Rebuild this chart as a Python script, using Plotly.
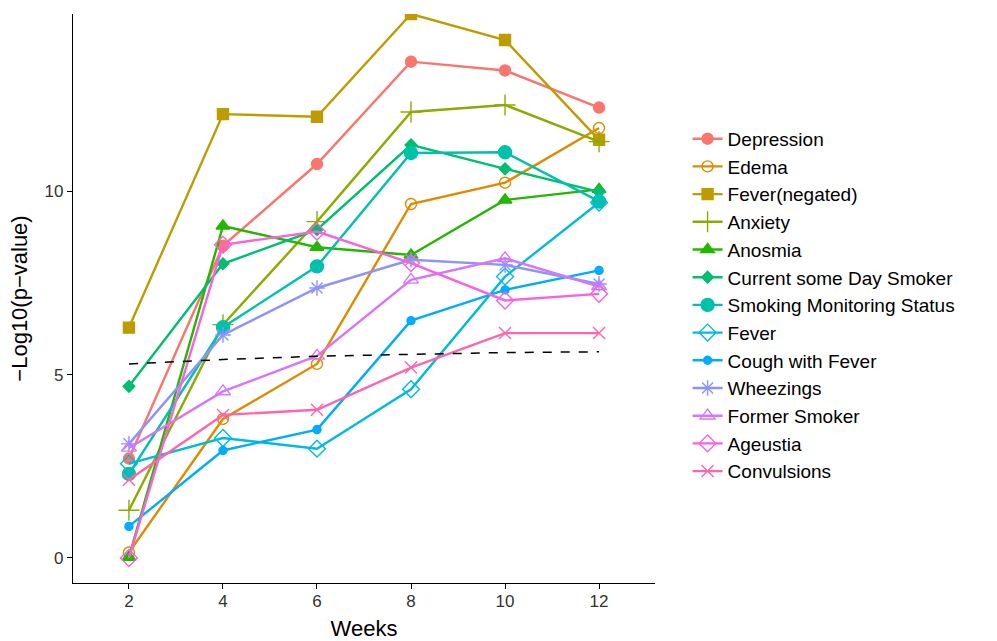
import plotly.graph_objects as go

weeks = [2, 4, 6, 8, 10, 12]

names = ["Depression", "Edema", "Fever(negated)", "Anxiety", "Anosmia",
         "Current some Day Smoker", "Smoking Monitoring Status", "Fever",
         "Cough with Fever", "Wheezings", "Former Smoker", "Ageustia", "Convulsions"]

depression = [2.71, 8.51, 10.74, 13.53, 13.29, 12.28]
edema = [0.15, 3.79, 5.29, 9.65, 10.23, 11.72]
fever_negated = [6.28, 12.10, 12.03, 14.83, 14.12, 11.40]
anxiety = [1.30, 6.36, 9.17, 12.16, 12.35, 11.35]
anosmia = [0.02, 9.05, 8.47, 8.26, 9.76, 10.05]
current_smoker = [4.68, 8.02, 8.95, 11.26, 10.61, 9.98]
smoking_monitoring = [2.29, 6.29, 7.95, 11.04, 11.06, 9.72]
fever = [2.57, 3.27, 2.98, 4.60, 7.67, 9.69]
cough_with_fever = [0.86, 2.93, 3.50, 6.47, 7.31, 7.84]
wheezings = [3.11, 6.08, 7.36, 8.13, 7.99, 7.47]
former_smoker = [3.00, 4.54, 5.51, 7.58, 8.17, 7.40]
ageustia = [0.00, 8.54, 8.90, 8.04, 7.02, 7.20]
convulsions = [2.13, 3.90, 4.04, 5.19, 6.13, 6.13]

threshold = [5.29, 5.41, 5.50, 5.55, 5.60, 5.62]

series = [depression, edema, fever_negated, anxiety, anosmia, current_smoker,
          smoking_monitoring, fever, cough_with_fever, wheezings, former_smoker,
          ageustia, convulsions]

colors = ["#F8766D", "#E18A00", "#BE9C00", "#8CAB00", "#24B700", "#00BE70",
          "#00C1AB", "#00BBDA", "#00ACFC", "#8B93FF", "#D575FE", "#F962DD", "#FF65AC"]

symbols = ["circle", "circle-open", "square", "cross-thin-open", "triangle-up",
           "diamond", "circle", "diamond-open", "circle", "asterisk-open",
           "triangle-up-open", "diamond-open", "x-thin-open"]
sizes = [11, 11, 11, 15, 12, 9, 13, 13, 8, 13, 13, 13, 12]

fig = go.Figure()
for name, vals, col, sym, sz in zip(names, series, colors, symbols, sizes):
    fig.add_trace(go.Scatter(
        x=weeks, y=vals, name=name, mode="lines+markers",
        line=dict(color=col, width=2.4),
        marker=dict(color=col, symbol=sym, size=sz,
                    line=dict(color=col, width=1.4)),
    ))

fig.add_trace(go.Scatter(
    x=weeks, y=threshold, mode="lines", showlegend=False,
    line=dict(color="black", width=1.5, dash="dash"),
))

font_family = "Liberation Sans, Arial, Helvetica, sans-serif"
fig.update_layout(
    width=997, height=641,
    margin=dict(l=73, r=342, t=14, b=58),
    plot_bgcolor="white", paper_bgcolor="white",
    font=dict(family=font_family, color="black"),
    xaxis=dict(
        range=[0.81, 13.19], tickvals=weeks, ticktext=[str(w) for w in weeks],
        automargin=False,
        showgrid=False, zeroline=False, showline=True, linecolor="black", linewidth=1.3,
        ticks="outside", ticklen=5, tickwidth=1.2, tickcolor="black",
        ticklabelstandoff=-3,
        tickfont=dict(size=17, color="#333333"),
        title=dict(text="Weeks", font=dict(size=22, color="black"), standoff=12),
    ),
    yaxis=dict(
        range=[-0.683, 14.83], tickvals=[0, 5, 10],
        automargin=False,
        showgrid=False, zeroline=False, showline=True, linecolor="black", linewidth=1.3,
        ticks="outside", ticklen=5, tickwidth=1.2, tickcolor="black",
        tickfont=dict(size=17, color="#333333"),
        title=dict(text="\u2212Log10(p\u2212value)", font=dict(size=22, color="black"), standoff=10),
    ),
    legend=dict(
        x=1.056, y=0.488, xanchor="left", yanchor="middle",
        font=dict(size=19, color="black"), tracegroupgap=0,
        itemwidth=30, bgcolor="rgba(0,0,0,0)",
    ),
)

fig.write_html("out.html")
